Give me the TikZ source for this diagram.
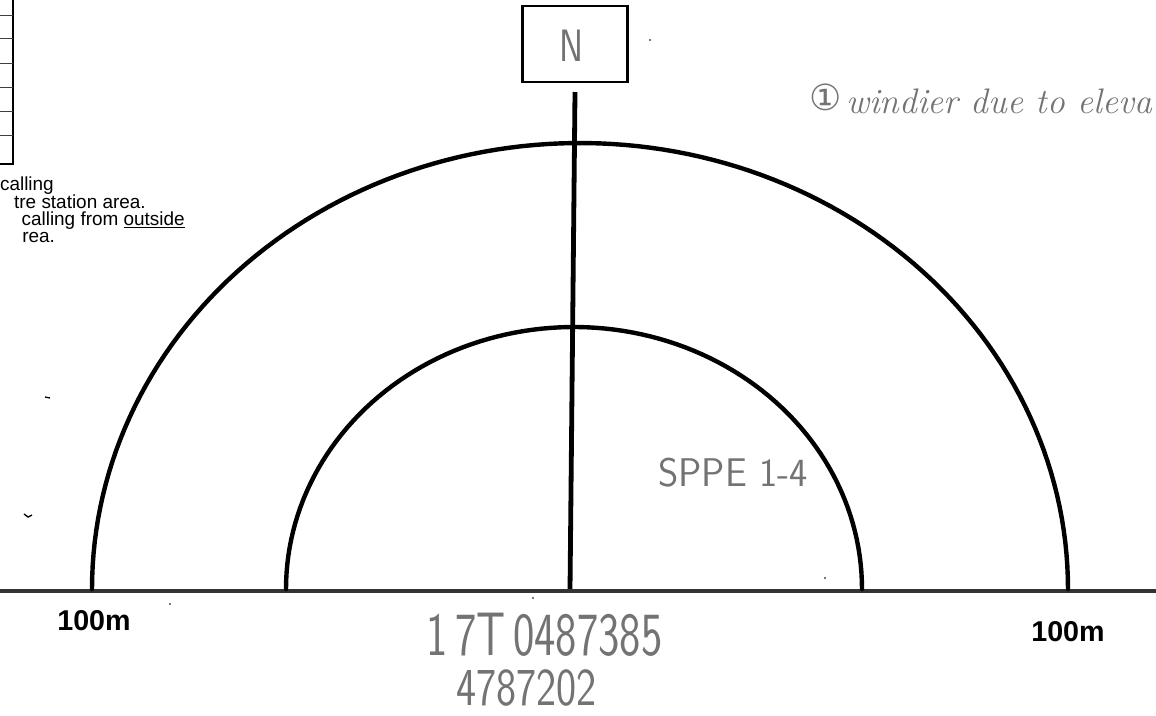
\documentclass[tikz,border=0pt]{standalone}
\usepackage{fontspec}
\setmainfont{Liberation Sans}
\newfontfamily\dejavu{DejaVu Sans}
\newfontfamily\lmroman{Latin Modern Roman}
\newfontfamily\lmsans{Latin Modern Sans}
\begin{document}
\begin{tikzpicture}[x=0.75pt,y=-0.75pt,
  thick arc/.style={line width=3.3pt,line cap=round},
  tableline/.style={line width=0.7pt,black!75},
  printed/.style={inner sep=0pt,font=\fontsize{14.2}{17}\selectfont},
  scale label/.style={inner sep=0pt,font=\fontsize{21.5}{22}\selectfont\bfseries},
  hand/.style={inner sep=0pt,text=black!55},
  northbox/.style={draw,line width=2pt,minimum width=79pt,minimum height=57pt,inner sep=0pt}]
\useasboundingbox[fill=white] (0,0) rectangle (1156,715);
% table at top left
\draw[line width=1.4pt] (13,0) -- (13,165);
\foreach \yy in {15,38,63,87,111,135} \draw[tableline] (0,\yy) -- (13,\yy);
\draw[line width=1.2pt] (0,164) -- (13,164);
% printed text
\node[printed,anchor=base east] (t1) at (54,190) {calling};
\node[printed,anchor=base east] (t2) at (146,208) {tre station area.};
\node[printed,anchor=base east] (t3) at (185,225) {calling from \underline{outside}};
\node[printed,anchor=base west] (t4) at (22,242) {rea.};
% north box
\node[northbox] (nbox) at (575,44) {};
\node[hand,font=\lmsans\fontsize{34}{34}\selectfont] (nlab) at (572,46) {\scalebox{0.8}[1]{N}};
% axis
\coordinate (vtop) at (575,92);
\coordinate (vbot) at (570,590);
\draw[line width=3.6pt] (vtop) -- (vbot);
% baseline
\coordinate (bl) at (0,591);
\coordinate (br) at (1156,591);
\draw[line width=3pt,black!80] (bl) -- (br);
% arcs
\draw[thick arc] plot[domain=180:0,samples=120] ({580+488*cos(\x)},{589-446*sin(\x)});
\draw[thick arc] plot[domain=180:0,samples=100] ({574+288*cos(\x)},{589-262*sin(\x)});
% labels
\node[scale label] (l100) at (94,621) {100m};
\node[scale label] (r100) at (1068,632) {100m};
% handwriting
\node[hand,font=\dejavu\fontsize{27}{27}\selectfont] (circ) at (826,97) {①};
\node[hand,anchor=base west,font=\lmroman\itshape\fontsize{26.6}{27}\selectfont] (wind) at (846,113) {windier due to eleva};
\node[hand,anchor=south west,font=\lmsans\fontsize{30}{30}\selectfont] (sppe) at (658,487) {\scalebox{0.97}[1]{SPPE 1-4}};
\node[hand,anchor=south west,font=\lmsans\fontsize{46}{46}\selectfont] (ph1) at (426,657) {\scalebox{0.74}[1]{1\,7T\,0487385}};
\node[hand,anchor=south west,font=\lmsans\fontsize{40}{40}\selectfont] (ph2) at (456,707) {\scalebox{0.8}[1]{4787202}};
% specks
\fill[black!70] (650,40) circle (1.2);
\fill[black!70] (170,604) circle (1.2);
\fill[black!70] (825,578) circle (1.2);
\fill[black!70] (533,598) circle (1.2);
\draw[line width=1pt] (45,397) -- (50,398);
\draw[line width=1pt] (24,514) -- (28,517) -- (32,515);
\end{tikzpicture}
\end{document}
